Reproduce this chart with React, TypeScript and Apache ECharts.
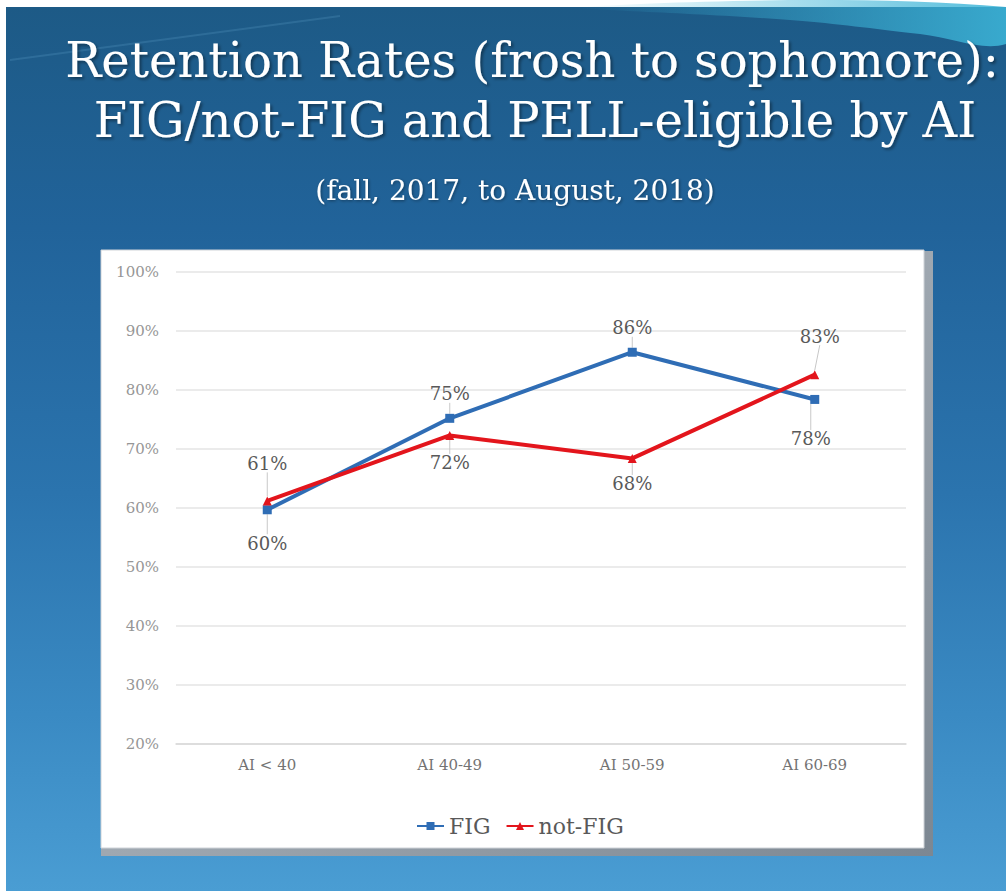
import React, { useEffect, useRef } from "react";
import * as echarts from "echarts";

const categories = ["AI < 40", "AI 40-49", "AI 50-59", "AI 60-69"];
const figValues = [59.7, 75.2, 86.4, 78.4];
const notFigValues = [61.2, 72.3, 68.4, 82.6];
const seriesNames = ["FIG", "not-FIG"];
const yTicks = { min: 20, max: 100, interval: 10 };

const titleLine1 = "Retention Rates (frosh to sophomore):";
const titleLine2 = "FIG/not-FIG and PELL-eligible by AI";
const titleLine3 = "(fall, 2017, to August, 2018)";

// label placement (layout only)
const figPos = ["bottom", "top", "top", "bottom"];
const notFigPos = ["top", "bottom", "bottom", "top"];
const labelDY = [
  [15, -6, -6, 21],
  [-19, 9, 7, -20],
];
const labelDX = [
  [0, 0, 0, -4],
  [0, 0, 0, 5],
];

const SERIF = "'DejaVu Serif', 'Liberation Serif', serif";

export default function App() {
  const ref = useRef<HTMLDivElement>(null);
  useEffect(() => {
    if (!ref.current) return;
    const chart = echarts.init(ref.current, undefined, { renderer: "svg" });
    const mkData = (vals: number[], pos: string[]) =>
      vals.map((v, i) => ({ value: v, label: { position: pos[i] } }));
    const labelCommon = {
      show: true,
      distance: 5,
      fontFamily: SERIF,
      fontSize: 18,
      color: "#595959",
      formatter: (p: any) => Math.round(p.value) + "%",
    };
    const titleStyle = (size: number, off: number) => ({
      fill: "#ffffff",
      font: `${size}px ${SERIF}`,
      align: "center",
      verticalAlign: "middle",
      textShadowColor: "rgba(0,0,0,0.4)",
      textShadowBlur: 3,
      textShadowOffsetX: off,
      textShadowOffsetY: off,
    });
    const option: any = {
      animation: false,
      backgroundColor: "#ffffff",
      graphic: [
        {
          type: "rect",
          z: -10,
          shape: { x: 6, y: 7, width: 1000, height: 884 },
          style: {
            fill: new echarts.graphic.LinearGradient(0, 0, 0, 1, [
              { offset: 0, color: "#1d5a86" },
              { offset: 0.25, color: "#21639a" },
              { offset: 0.55, color: "#2b74ae" },
              { offset: 0.8, color: "#3a8ac3" },
              { offset: 1, color: "#4a9dd3" },
            ]),
          },
        },
        {
          type: "polygon",
          z: -9,
          shape: {
            points: [
              [580, 7],
              [1006, 7],
              [1006, 44],
              [920, 34],
              [790, 20],
            ],
            smooth: 0.4,
          },
          style: {
            fill: new echarts.graphic.LinearGradient(1, 0, 0, 0, [
              { offset: 0, color: "rgba(60,180,215,0.9)" },
              { offset: 1, color: "rgba(60,180,215,0)" },
            ]),
          },
        },
        {
          type: "line",
          z: -9,
          shape: { x1: 10, y1: 60, x2: 340, y2: 16 },
          style: { stroke: "rgba(120,190,230,0.18)", lineWidth: 2 },
        },
        {
          type: "rect",
          z: -8,
          shape: { x: 101, y: 251, width: 832, height: 605 },
          style: {
            fill: new echarts.graphic.LinearGradient(0, 0, 1, 1, [
              { offset: 0, color: "#c2c9d0" },
              { offset: 1, color: "#7c8792" },
            ]),
          },
        },
        {
          type: "rect",
          z: -7,
          shape: { x: 101, y: 250, width: 823, height: 598 },
          style: { fill: "#ffffff", stroke: "#cfd3d8", lineWidth: 1 },
        },
        {
          type: "text",
          z: 5,
          x: 532,
          y: 60,
          style: { text: titleLine1, ...titleStyle(48, 2) },
        },
        {
          type: "text",
          z: 5,
          x: 535,
          y: 120,
          style: { text: titleLine2, ...titleStyle(48, 2) },
        },
        {
          type: "text",
          z: 5,
          x: 515,
          y: 190,
          style: { text: titleLine3, ...titleStyle(28, 1) },
        },
      ],
      grid: { left: 176, right: 100, top: 272, bottom: 147 },
      legend: {
        data: seriesNames,
        left: 411,
        top: 810,
        itemWidth: 27,
        itemHeight: 10,
        itemGap: 15,
        textStyle: { fontFamily: SERIF, fontSize: 22, color: "#595959" },
      },
      xAxis: {
        type: "category",
        data: categories,
        boundaryGap: true,
        axisLine: { show: true, lineStyle: { color: "#d9d9d9", width: 1.5 } },
        axisTick: { show: false },
        axisLabel: {
          fontFamily: SERIF,
          fontSize: 15,
          color: "#737373",
          margin: 13,
        },
        splitLine: { show: false },
      },
      yAxis: {
        type: "value",
        min: yTicks.min,
        max: yTicks.max,
        interval: yTicks.interval,
        axisLine: { show: false },
        axisTick: { show: false },
        axisLabel: {
          fontFamily: SERIF,
          fontSize: 15,
          color: "#969696",
          margin: 17,
          formatter: (v: number) => v + "%",
        },
        splitLine: { lineStyle: { color: "#e4e4e4", width: 1.5 } },
      },
      series: [
        {
          name: seriesNames[0],
          type: "line",
          data: mkData(figValues, figPos),
          color: "#2f6db5",
          lineStyle: { width: 4, color: "#2f6db5" },
          symbol: "rect",
          symbolSize: 9,
          itemStyle: { color: "#2f6db5" },
          label: labelCommon,
          labelLine: { show: true, lineStyle: { color: "#c8c8c8", width: 1 } },
          labelLayout: (p: any) => ({
            dx: labelDX[0][p.dataIndex],
            dy: labelDY[0][p.dataIndex],
          }),
          z: 3,
        },
        {
          name: seriesNames[1],
          type: "line",
          data: mkData(notFigValues, notFigPos),
          color: "#e3151c",
          lineStyle: { width: 4, color: "#e3151c" },
          symbol: "triangle",
          symbolSize: 9,
          itemStyle: { color: "#e3151c" },
          label: labelCommon,
          labelLine: { show: true, lineStyle: { color: "#c8c8c8", width: 1 } },
          labelLayout: (p: any) => ({
            dx: labelDX[1][p.dataIndex],
            dy: labelDY[1][p.dataIndex],
          }),
          z: 4,
        },
      ],
    };
    chart.setOption(option);
    return () => chart.dispose();
  }, []);
  return (
    <div
      ref={ref}
      style={{ position: "fixed", left: 0, top: 0, width: 1006, height: 891 }}
    />
  );
}
